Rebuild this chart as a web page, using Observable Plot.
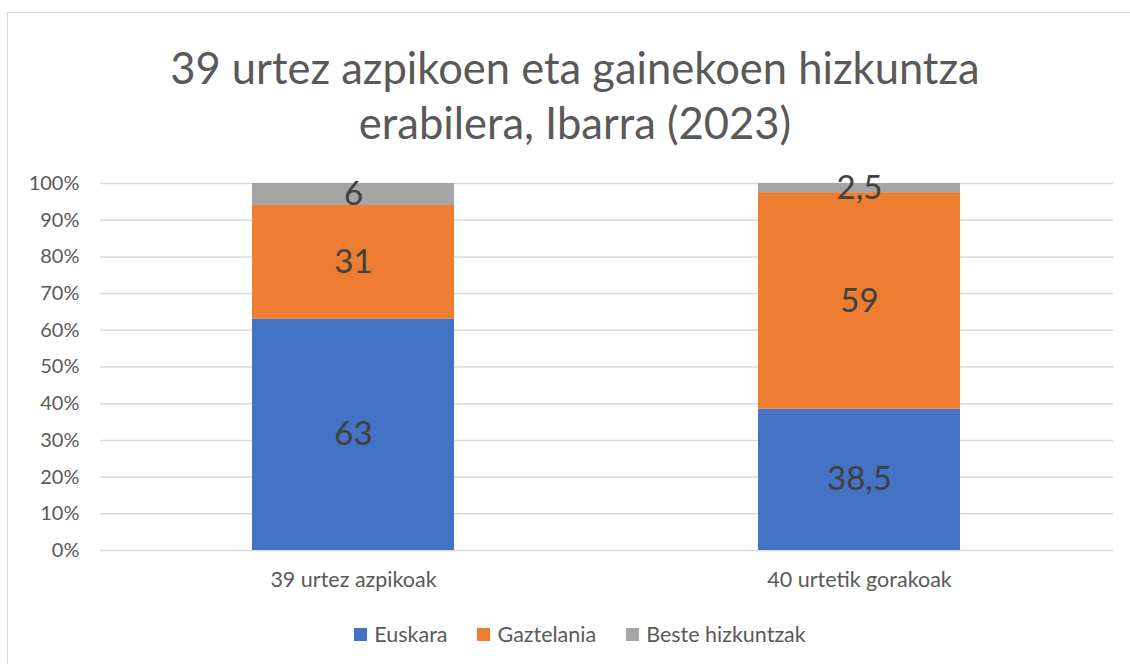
<!DOCTYPE html>
<html>
<head>
<meta charset="utf-8">
<script src="https://cdn.jsdelivr.net/npm/d3@7"></script>
<script src="https://cdn.jsdelivr.net/npm/@observablehq/plot@0.6"></script>
<style>
  html, body { margin: 0; padding: 0; background: #fff; }
  #root { position: relative; width: 1130px; height: 664px; overflow: hidden; font-family: Lato, "Open Sans", sans-serif; }
  #frame { position: absolute; left: 7px; top: 12px; width: 1200px; height: 800px; border-top: 1.5px solid #d9d9d9; border-left: 1.5px solid #d9d9d9; }
  #title { position: absolute; left: 0; width: 1150px; top: 40px; text-align: center; font-size: 43.5px; line-height: 55px; color: #595959; }
  #chart { position: absolute; left: 0; top: 160px; }
  #legend { position: absolute; left: 0; width: 1160px; top: 621px; display: flex; justify-content: center; gap: 30px; font-size: 21.5px; color: #595959; }
  .item { display: flex; align-items: center; gap: 7px; }
  .sw { width: 13px; height: 13px; display: inline-block; }
</style>
</head>
<body>
<div id="root">
  <div id="frame"></div>
  <div id="title">39 urtez azpikoen eta gainekoen hizkuntza<br>erabilera, Ibarra (2023)</div>
  <div id="chart"></div>
  <div id="legend"></div>
</div>
<script>
const groups = ["39 urtez azpikoak", "40 urtetik gorakoak"];
const languages = ["Euskara", "Gaztelania", "Beste hizkuntzak"];
const colors = ["#4472C4", "#ED7D31", "#A5A5A5"];
const euskara = [63, 38.5];
const gaztelania = [31, 59];
const beste = [6, 2.5];
const yTicks = [0, 10, 20, 30, 40, 50, 60, 70, 80, 90, 100];

const series = [euskara, gaztelania, beste];
const data = [];
languages.forEach((lang, i) => {
  groups.forEach((g, j) => {
    data.push({group: g, lang, value: series[i][j]});
  });
});

const fmt = v => String(v).replace(".", ",");

const plot = Plot.plot({
  width: 1130,
  height: 450,
  marginLeft: 100,
  marginRight: 17,
  marginTop: 23,
  marginBottom: 60,
  style: {fontFamily: "Lato, 'Open Sans', sans-serif", background: "transparent"},
  x: {domain: groups, paddingInner: 0.6, paddingOuter: 0.3, label: null},
  y: {domain: [0, 100], label: null},
  color: {domain: languages, range: colors},
  marks: [
    Plot.gridY(yTicks, {stroke: "#d9d9d9", strokeOpacity: 1, strokeWidth: 1.5}),
    Plot.barY(data, {x: "group", y: "value", fill: "lang", z: "lang", order: languages}),
    Plot.text(data, Plot.stackY({x: "group", y: "value", z: "lang", order: languages, text: d => fmt(d.value), fill: "#404040", fontSize: 33})),
    Plot.axisY({ticks: yTicks, tickFormat: d => d + "%", tickSize: 0, tickPadding: 21, fontSize: 20, fill: "#595959", label: null}),
    Plot.axisX({tickSize: 0, tickPadding: 21, fontSize: 21.5, fill: "#595959", label: null})
  ]
});
document.getElementById("chart").appendChild(plot);

const legend = document.getElementById("legend");
languages.forEach((l, i) => {
  const it = document.createElement("div");
  it.className = "item";
  it.innerHTML = `<span class="sw" style="background:${colors[i]}"></span><span>${l}</span>`;
  legend.appendChild(it);
});
</script>
</body>
</html>
